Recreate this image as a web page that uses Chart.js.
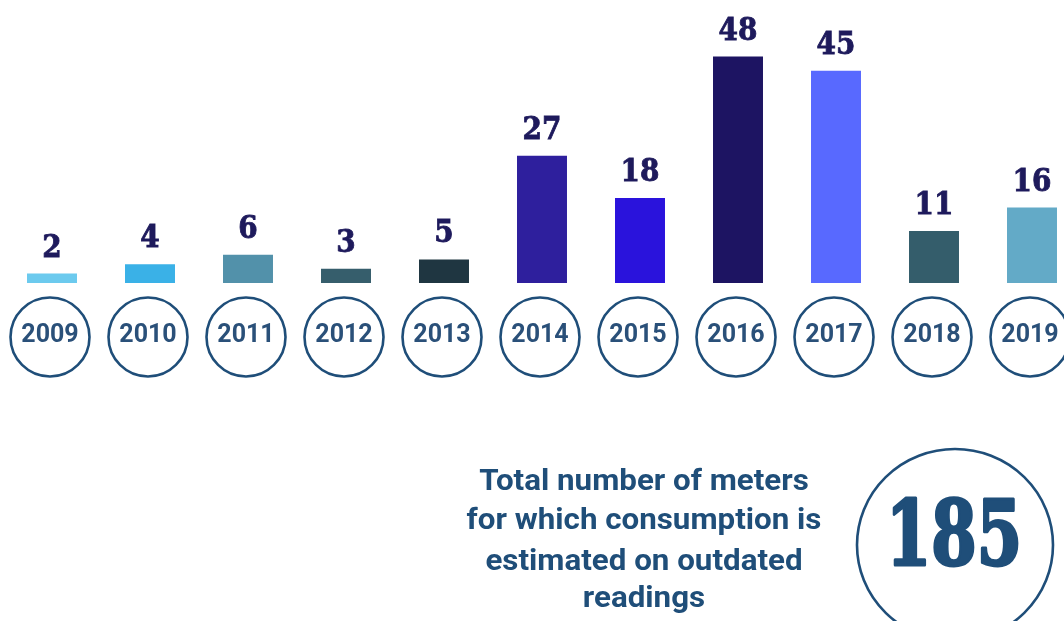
<!DOCTYPE html>
<html>
<head>
<meta charset="utf-8">
<script src="https://cdn.jsdelivr.net/npm/chart.js@4.4.1/dist/chart.umd.min.js"></script>
<style>
  html, body { margin: 0; padding: 0; background: #ffffff; overflow: hidden; }
  #wrap { width: 1064px; height: 621px; position: relative; overflow: hidden; }
</style>
</head>
<body>
<div id="wrap"><canvas id="meterChart" width="1100" height="621"></canvas></div>
<script>
const years = ["2009", "2010", "2011", "2012", "2013", "2014", "2015", "2016", "2017", "2018", "2019"];
const meterCounts = [2, 4, 6, 3, 5, 27, 18, 48, 45, 11, 16];
const barColors = ["#6ccaee", "#3ab1e7", "#5291aa", "#365e6c", "#1f3641", "#2e1f9d", "#2a13dc", "#1d1462", "#5869ff", "#345d6b", "#63aac7"];
const totalMeters = "185";
const noteLines = ["Total number of meters", "for which consumption is", "estimated on outdated", "readings"];

const ringColor = "#1f4e79";
const labelColor = "#1e1a5c";
const slabFont = "'DejaVu Serif Condensed', 'DejaVu Serif', serif";

// draw text squeezed or stretched to a given width
function fitText(ctx, text, x, y, width, thicken) {
  const w = ctx.measureText(text).width;
  const sx = width / w;
  ctx.save();
  ctx.translate(x, y);
  ctx.scale(sx, 1);
  ctx.fillText(text, 0, 0);
  if (thicken) {
    ctx.lineWidth = thicken;
    ctx.strokeStyle = ctx.fillStyle;
    ctx.lineJoin = "round";
    ctx.strokeText(text, 0, 0);
  }
  ctx.restore();
}

// value labels above bars + year rings below the baseline
const decorPlugin = {
  id: "decor",
  afterDatasetsDraw(chart) {
    const ctx = chart.ctx;
    const meta = chart.getDatasetMeta(0);
    const xScale = chart.scales.x;

    ctx.save();
    ctx.textAlign = "center";
    ctx.textBaseline = "alphabetic";
    ctx.fillStyle = labelColor;
    ctx.strokeStyle = labelColor;
    ctx.lineWidth = 0.8;
    ctx.font = "bold 31px " + slabFont;
    meta.data.forEach((bar, i) => {
      ctx.fillText(String(meterCounts[i]), bar.x, bar.y - 17);
      ctx.strokeText(String(meterCounts[i]), bar.x, bar.y - 17);
    });

    years.forEach((yr, i) => {
      const cx = xScale.getPixelForValue(i) - 2;
      const cy = 337;
      ctx.beginPath();
      ctx.ellipse(cx, cy, 39.5, 39.5, 0, 0, Math.PI * 2);
      ctx.lineWidth = 2.6;
      ctx.strokeStyle = ringColor;
      ctx.stroke();
      ctx.fillStyle = "#2a5079";
      ctx.font = "bold 25px Roboto, 'Noto Sans', sans-serif";
      ctx.textBaseline = "middle";
      ctx.fillText(yr, cx, cy - 1);
    });
    ctx.restore();
  },
  afterDraw(chart) {
    const ctx = chart.ctx;
    ctx.save();
    ctx.fillStyle = ringColor;
    ctx.textAlign = "center";
    ctx.textBaseline = "alphabetic";

    // note text, stretched a touch
    ctx.font = "bold 29px Roboto, 'Noto Sans', sans-serif";
    const baselines = [490, 529, 570, 607];
    noteLines.forEach((line, i) => {
      ctx.save();
      ctx.translate(644, baselines[i]);
      ctx.scale(1.08, 1);
      ctx.fillText(line, 0, 0);
      ctx.restore();
    });

    // big total in a ring
    ctx.beginPath();
    ctx.ellipse(955, 545, 98, 96, 0, 0, Math.PI * 2);
    ctx.lineWidth = 2.6;
    ctx.strokeStyle = ringColor;
    ctx.stroke();
    ctx.font = "bold 89px " + slabFont;
    fitText(ctx, totalMeters, 954, 565, 136, 3);
    ctx.restore();
  }
};

new Chart(document.getElementById("meterChart").getContext("2d"), {
  type: "bar",
  data: {
    labels: years,
    datasets: [{
      data: meterCounts,
      backgroundColor: barColors,
      borderWidth: 0,
      barPercentage: 0.51,
      categoryPercentage: 1
    }]
  },
  options: {
    responsive: false,
    animation: false,
    layout: { padding: { top: 0, bottom: 338, left: 3, right: 19 } },
    plugins: { legend: { display: false }, tooltip: { enabled: false } },
    scales: {
      x: { display: false },
      y: { display: false, min: 0, max: 60 }
    }
  },
  plugins: [decorPlugin]
});
</script>
</body>
</html>
